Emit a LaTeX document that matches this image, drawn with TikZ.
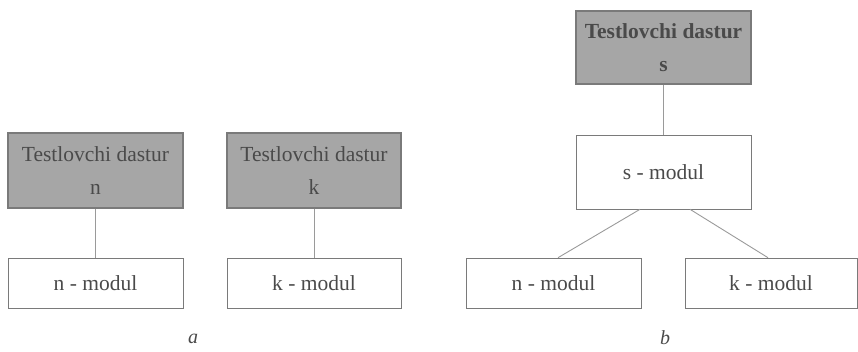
\documentclass[tikz,border=0pt]{standalone}
\usepackage{fontspec}
\setmainfont{Liberation Serif}
\definecolor{boxgray}{HTML}{A6A6A6}
\definecolor{edgegray}{HTML}{7A7A7A}
\definecolor{linegray}{HTML}{9A9A9A}
\definecolor{txtgray}{HTML}{4A4A4A}
\begin{document}
\begin{tikzpicture}[x=1pt,y=-1pt,
  graybox/.style={draw=edgegray,line width=1.2pt,fill=boxgray,minimum width=175pt,minimum height=75pt,
    inner sep=0pt,align=center,text=txtgray,font=\fontsize{21.5}{33}\selectfont},
  modbox/.style={draw=edgegray,line width=0.6pt,fill=white,minimum width=175pt,minimum height=50pt,
    inner sep=0pt,text=txtgray,font=\fontsize{21.5}{25}\selectfont},
  link/.style={draw=linegray,line width=0.9pt},
  caption/.style={text=txtgray,font=\fontsize{20}{24}\selectfont\itshape}]
\useasboundingbox (0,0) rectangle (858,352);
% part a
\node[graybox] (gn) at (95.5,170.5) {Testlovchi dastur\\n};
\node[modbox] (nm) at (95.5,283) {n - modul};
\node[graybox,minimum width=174pt] (gk) at (314,170.5) {Testlovchi dastur\\k};
\node[modbox,minimum width=174pt] (km) at (314,283) {k - modul};
\draw[link] (gn) -- (nm);
\draw[link] (gk) -- (km);
\node[caption] (la) at (193,339) {a};
% part b
\node[graybox,minimum height=73pt,font=\fontsize{21.5}{33}\selectfont\bfseries] (gs) at (663.5,47.5) {Testlovchi dastur\\s};
\node[modbox,minimum height=74pt] (sm) at (663.5,172) {s - modul};
\node[modbox] (nb) at (553.5,283) {n - modul};
\node[modbox,minimum width=172pt] (kb) at (771,283) {k - modul};
\draw[link] (gs) -- (sm);
\draw[link] ([xshift=-23.5pt]sm.south) -- ([xshift=4.5pt]nb.north);
\draw[link] ([xshift=26.5pt]sm.south) -- ([xshift=-3pt]kb.north);
\node[caption] (lb) at (665,338) {b};
\end{tikzpicture}
\end{document}
